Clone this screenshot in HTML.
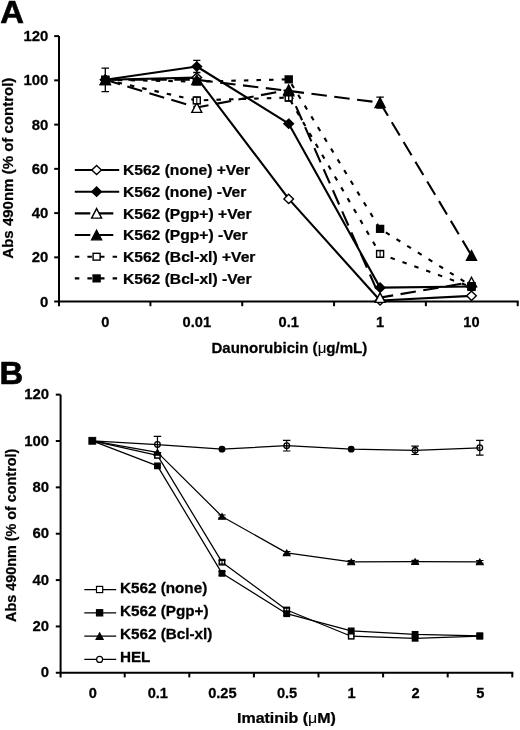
<!DOCTYPE html><html><head><meta charset="utf-8"><style>html,body{margin:0;padding:0;background:#fff;}svg{display:block;filter:grayscale(100%);}text{font-family:"Liberation Sans",sans-serif;font-weight:bold;fill:#000;stroke:#000;}</style></head><body>
<svg width="520" height="730" viewBox="0 0 520 730">
<rect width="520" height="730" fill="#fff"/>
<text transform="translate(0.30,22.80) scale(1.04,1)" font-size="31.6" text-anchor="start" stroke-width="0.6">A</text>
<text transform="translate(48.40,306.60) scale(1.08,1)" font-size="13.8" text-anchor="end" stroke-width="0.25">0</text>
<text transform="translate(48.40,262.35) scale(1.08,1)" font-size="13.8" text-anchor="end" stroke-width="0.25">20</text>
<text transform="translate(48.40,218.10) scale(1.08,1)" font-size="13.8" text-anchor="end" stroke-width="0.25">40</text>
<text transform="translate(48.40,173.85) scale(1.08,1)" font-size="13.8" text-anchor="end" stroke-width="0.25">60</text>
<text transform="translate(48.40,129.60) scale(1.08,1)" font-size="13.8" text-anchor="end" stroke-width="0.25">80</text>
<text transform="translate(48.40,85.35) scale(1.08,1)" font-size="13.8" text-anchor="end" stroke-width="0.25">100</text>
<text transform="translate(48.40,41.10) scale(1.08,1)" font-size="13.8" text-anchor="end" stroke-width="0.25">120</text>
<path d="M59.0,36.10V306.20000000000005M54.2,301.6H518.70" stroke="#000" stroke-width="2" fill="none"/>
<path d="M54.2,257.35H59.0" stroke="#000" stroke-width="2"/>
<path d="M54.2,213.10H59.0" stroke="#000" stroke-width="2"/>
<path d="M54.2,168.85H59.0" stroke="#000" stroke-width="2"/>
<path d="M54.2,124.60H59.0" stroke="#000" stroke-width="2"/>
<path d="M54.2,80.35H59.0" stroke="#000" stroke-width="2"/>
<path d="M54.2,36.10H59.0" stroke="#000" stroke-width="2"/>
<path d="M150.42,301.6V306.20000000000005" stroke="#000" stroke-width="2"/>
<path d="M242.24,301.6V306.20000000000005" stroke="#000" stroke-width="2"/>
<path d="M334.06,301.6V306.20000000000005" stroke="#000" stroke-width="2"/>
<path d="M425.88,301.6V306.20000000000005" stroke="#000" stroke-width="2"/>
<path d="M517.70,301.6V306.20000000000005" stroke="#000" stroke-width="2"/>
<text transform="translate(105.30,327.40) scale(1.06,1)" font-size="13.8" text-anchor="middle" stroke-width="0.25">0</text>
<text transform="translate(196.80,327.40) scale(1.06,1)" font-size="13.8" text-anchor="middle" stroke-width="0.25">0.01</text>
<text transform="translate(288.70,327.40) scale(1.06,1)" font-size="13.8" text-anchor="middle" stroke-width="0.25">0.1</text>
<text transform="translate(380.10,327.40) scale(1.06,1)" font-size="13.8" text-anchor="middle" stroke-width="0.25">1</text>
<text transform="translate(471.50,327.40) scale(1.06,1)" font-size="13.8" text-anchor="middle" stroke-width="0.25">10</text>
<text transform="translate(211.40,352.60) scale(1.062,1)" font-size="14.2" text-anchor="start" stroke-width="0.25">Daunorubicin (<tspan font-weight="normal" stroke-width="0.1">μ</tspan>g/mL)</text>
<text transform="translate(12.80,168.15) rotate(-90) scale(1.058,1)" font-size="14.2" text-anchor="middle" stroke-width="0.25">Abs 490nm (% of control)</text>
<polyline points="105.30,79.80 196.80,77.58 288.70,198.91 380.10,300.49 471.50,295.83" fill="none" stroke="#000" stroke-width="2.1" stroke-linejoin="round"/>
<polyline points="105.30,79.80 196.80,66.49 288.70,123.72 380.10,287.63 471.50,286.52" fill="none" stroke="#000" stroke-width="2.1" stroke-linejoin="round"/>
<polyline points="105.30,79.80 196.80,107.53 288.70,89.78 380.10,297.61 471.50,282.08" fill="none" stroke="#000" stroke-width="2.1" stroke-linejoin="round" stroke-dasharray="15.5 7.5" stroke-dashoffset="0"/>
<polyline points="105.30,79.80 196.80,79.80 288.70,90.89 380.10,102.65 471.50,255.47" fill="none" stroke="#000" stroke-width="2.1" stroke-linejoin="round" stroke-dasharray="15.5 7.5" stroke-dashoffset="0"/>
<polyline points="105.30,79.80 196.80,100.43 288.70,97.54 380.10,253.91 471.50,286.96" fill="none" stroke="#000" stroke-width="2.1" stroke-linejoin="round" stroke-dasharray="4.5 8.1" stroke-dashoffset="0"/>
<polyline points="105.30,79.80 196.80,81.57 288.70,79.36 380.10,228.85 471.50,286.07" fill="none" stroke="#000" stroke-width="2.1" stroke-linejoin="round" stroke-dasharray="4.5 8.1" stroke-dashoffset="0"/>
<path d="M105.30,68.04V91.56M101.55,68.04H109.05M101.55,91.56H109.05" stroke="#000" stroke-width="1.3" fill="none"/>
<path d="M196.80,60.28V72.48M193.20,60.28H200.40M193.20,72.48H200.40" stroke="#000" stroke-width="1.3" fill="none"/>
<path d="M380.10,97.10V108.19M376.35,97.10H383.85M376.35,108.19H383.85" stroke="#000" stroke-width="1.3" fill="none"/>
<polygon points="105.30,75.20 110.10,79.80 105.30,84.40 100.50,79.80" fill="#fff" stroke="#000" stroke-width="1.4"/>
<polygon points="105.30,75.20 110.10,79.80 105.30,84.40 100.50,79.80" fill="#000" stroke="#000" stroke-width="1.4"/>
<polygon points="105.30,75.00 110.30,84.60 100.30,84.60" fill="#fff" stroke="#000" stroke-width="1.4" stroke-linejoin="miter"/>
<polygon points="105.30,75.00 110.30,84.60 100.30,84.60" fill="#000" stroke="#000" stroke-width="1.4" stroke-linejoin="miter"/>
<rect x="101.80" y="76.40" width="7.0" height="6.8" fill="#fff" stroke="#000" stroke-width="1.4"/>
<rect x="101.80" y="76.40" width="7.0" height="6.8" fill="#000" stroke="#000" stroke-width="1.4"/>
<polygon points="196.80,72.98 201.60,77.58 196.80,82.18 192.00,77.58" fill="#fff" stroke="#000" stroke-width="1.4"/>
<polygon points="196.80,61.89 201.60,66.49 196.80,71.09 192.00,66.49" fill="#000" stroke="#000" stroke-width="1.4"/>
<polygon points="196.80,102.73 201.80,112.33 191.80,112.33" fill="#fff" stroke="#000" stroke-width="1.4" stroke-linejoin="miter"/>
<polygon points="196.80,75.00 201.80,84.60 191.80,84.60" fill="#000" stroke="#000" stroke-width="1.4" stroke-linejoin="miter"/>
<rect x="193.30" y="97.03" width="7.0" height="6.8" fill="#fff" stroke="#000" stroke-width="1.4"/>
<rect x="193.30" y="78.17" width="7.0" height="6.8" fill="#000" stroke="#000" stroke-width="1.4"/>
<polygon points="288.70,194.31 293.50,198.91 288.70,203.51 283.90,198.91" fill="#fff" stroke="#000" stroke-width="1.4"/>
<polygon points="288.70,119.12 293.50,123.72 288.70,128.32 283.90,123.72" fill="#000" stroke="#000" stroke-width="1.4"/>
<polygon points="288.70,84.98 293.70,94.58 283.70,94.58" fill="#fff" stroke="#000" stroke-width="1.4" stroke-linejoin="miter"/>
<rect x="285.20" y="94.14" width="7.0" height="6.8" fill="#fff" stroke="#000" stroke-width="1.4"/>
<polygon points="288.70,86.09 293.70,95.69 283.70,95.69" fill="#000" stroke="#000" stroke-width="1.4" stroke-linejoin="miter"/>
<rect x="285.20" y="75.96" width="7.0" height="6.8" fill="#000" stroke="#000" stroke-width="1.4"/>
<polygon points="380.10,295.89 384.90,300.49 380.10,305.09 375.30,300.49" fill="#fff" stroke="#000" stroke-width="1.4"/>
<polygon points="380.10,283.03 384.90,287.63 380.10,292.23 375.30,287.63" fill="#000" stroke="#000" stroke-width="1.4"/>
<polygon points="380.10,292.81 385.10,302.41 375.10,302.41" fill="#fff" stroke="#000" stroke-width="1.4" stroke-linejoin="miter"/>
<polygon points="380.10,97.85 385.10,107.45 375.10,107.45" fill="#000" stroke="#000" stroke-width="1.4" stroke-linejoin="miter"/>
<rect x="376.60" y="250.51" width="7.0" height="6.8" fill="#fff" stroke="#000" stroke-width="1.4"/>
<rect x="376.60" y="225.45" width="7.0" height="6.8" fill="#000" stroke="#000" stroke-width="1.4"/>
<polygon points="471.50,291.23 476.30,295.83 471.50,300.43 466.70,295.83" fill="#fff" stroke="#000" stroke-width="1.4"/>
<polygon points="471.50,281.92 476.30,286.52 471.50,291.12 466.70,286.52" fill="#000" stroke="#000" stroke-width="1.4"/>
<polygon points="471.50,277.28 476.50,286.88 466.50,286.88" fill="#fff" stroke="#000" stroke-width="1.4" stroke-linejoin="miter"/>
<polygon points="471.50,250.67 476.50,260.27 466.50,260.27" fill="#000" stroke="#000" stroke-width="1.4" stroke-linejoin="miter"/>
<rect x="468.00" y="283.56" width="7.0" height="6.8" fill="#fff" stroke="#000" stroke-width="1.4"/>
<rect x="468.00" y="282.67" width="7.0" height="6.8" fill="#000" stroke="#000" stroke-width="1.4"/>
<path d="M196.80,97.10V103.75M193.80,97.10H199.80M193.80,103.75H199.80" stroke="#000" stroke-width="1.1" fill="none"/>
<path d="M380.10,250.59V257.24M377.10,250.59H383.10M377.10,257.24H383.10" stroke="#000" stroke-width="1.1" fill="none"/>
<path d="M288.70,94.00V101.09M285.20,94.00H292.20M285.20,101.09H292.20" stroke="#000" stroke-width="1.4" fill="none"/>
<path d="M74.8,170.00H119.2" stroke="#000" stroke-width="2.1"/>
<polygon points="96.60,165.40 101.40,170.00 96.60,174.60 91.80,170.00" fill="#fff" stroke="#000" stroke-width="1.4"/>
<text transform="translate(122.95,175.35) scale(1.087,1)" font-size="14.4" text-anchor="start" stroke-width="0.25">K562 (none) +Ver</text>
<path d="M74.8,191.68H119.2" stroke="#000" stroke-width="2.1"/>
<polygon points="96.60,187.08 101.40,191.68 96.60,196.28 91.80,191.68" fill="#000" stroke="#000" stroke-width="1.4"/>
<text transform="translate(122.95,197.03) scale(1.087,1)" font-size="14.4" text-anchor="start" stroke-width="0.25">K562 (none) -Ver</text>
<path d="M74.8,213.36H119.2" stroke="#000" stroke-width="2.1" stroke-dasharray="15.5 7.5"/>
<polygon points="96.60,208.56 101.60,218.16 91.60,218.16" fill="#fff" stroke="#000" stroke-width="1.4" stroke-linejoin="miter"/>
<text transform="translate(122.95,218.71) scale(1.087,1)" font-size="14.4" text-anchor="start" stroke-width="0.25">K562 (Pgp+) +Ver</text>
<path d="M74.8,235.04H119.2" stroke="#000" stroke-width="2.1" stroke-dasharray="15.5 7.5"/>
<polygon points="96.60,230.24 101.60,239.84 91.60,239.84" fill="#000" stroke="#000" stroke-width="1.4" stroke-linejoin="miter"/>
<text transform="translate(122.95,240.39) scale(1.087,1)" font-size="14.4" text-anchor="start" stroke-width="0.25">K562 (Pgp+) -Ver</text>
<path d="M74.8,256.72H119.2" stroke="#000" stroke-width="2.1" stroke-dasharray="4.5 8.1"/>
<rect x="93.10" y="253.32" width="7.0" height="6.8" fill="#fff" stroke="#000" stroke-width="1.4"/>
<text transform="translate(122.95,262.07) scale(1.087,1)" font-size="14.4" text-anchor="start" stroke-width="0.25">K562 (Bcl-xl) +Ver</text>
<path d="M74.8,278.40H119.2" stroke="#000" stroke-width="2.1" stroke-dasharray="4.5 8.1"/>
<rect x="93.10" y="275.00" width="7.0" height="6.8" fill="#000" stroke="#000" stroke-width="1.4"/>
<text transform="translate(122.95,283.75) scale(1.087,1)" font-size="14.4" text-anchor="start" stroke-width="0.25">K562 (Bcl-xl) -Ver</text>
<text transform="translate(-0.60,383.60) scale(1.04,1)" font-size="31.6" text-anchor="start" stroke-width="0.6">B</text>
<text transform="translate(49.00,677.40) scale(1.08,1)" font-size="13.8" text-anchor="end" stroke-width="0.25">0</text>
<text transform="translate(49.00,631.04) scale(1.08,1)" font-size="13.8" text-anchor="end" stroke-width="0.25">20</text>
<text transform="translate(49.00,584.68) scale(1.08,1)" font-size="13.8" text-anchor="end" stroke-width="0.25">40</text>
<text transform="translate(49.00,538.32) scale(1.08,1)" font-size="13.8" text-anchor="end" stroke-width="0.25">60</text>
<text transform="translate(49.00,491.96) scale(1.08,1)" font-size="13.8" text-anchor="end" stroke-width="0.25">80</text>
<text transform="translate(49.00,445.60) scale(1.08,1)" font-size="13.8" text-anchor="end" stroke-width="0.25">100</text>
<text transform="translate(49.00,399.24) scale(1.08,1)" font-size="13.8" text-anchor="end" stroke-width="0.25">120</text>
<path d="M60.6,394.64V677.4M55.800000000000004,672.8H513.30" stroke="#000" stroke-width="2" fill="none"/>
<path d="M55.800000000000004,626.44H60.6" stroke="#000" stroke-width="2"/>
<path d="M55.800000000000004,580.08H60.6" stroke="#000" stroke-width="2"/>
<path d="M55.800000000000004,533.72H60.6" stroke="#000" stroke-width="2"/>
<path d="M55.800000000000004,487.36H60.6" stroke="#000" stroke-width="2"/>
<path d="M55.800000000000004,441.00H60.6" stroke="#000" stroke-width="2"/>
<path d="M55.800000000000004,394.64H60.6" stroke="#000" stroke-width="2"/>
<path d="M124.70,672.8V677.4" stroke="#000" stroke-width="2"/>
<path d="M189.30,672.8V677.4" stroke="#000" stroke-width="2"/>
<path d="M253.90,672.8V677.4" stroke="#000" stroke-width="2"/>
<path d="M318.50,672.8V677.4" stroke="#000" stroke-width="2"/>
<path d="M383.10,672.8V677.4" stroke="#000" stroke-width="2"/>
<path d="M447.70,672.8V677.4" stroke="#000" stroke-width="2"/>
<path d="M512.30,672.8V677.4" stroke="#000" stroke-width="2"/>
<text transform="translate(92.70,698.20) scale(1.06,1)" font-size="13.8" text-anchor="middle" stroke-width="0.25">0</text>
<text transform="translate(157.85,698.20) scale(1.06,1)" font-size="13.8" text-anchor="middle" stroke-width="0.25">0.1</text>
<text transform="translate(222.40,698.20) scale(1.06,1)" font-size="13.8" text-anchor="middle" stroke-width="0.25">0.25</text>
<text transform="translate(287.10,698.20) scale(1.06,1)" font-size="13.8" text-anchor="middle" stroke-width="0.25">0.5</text>
<text transform="translate(351.60,698.20) scale(1.06,1)" font-size="13.8" text-anchor="middle" stroke-width="0.25">1</text>
<text transform="translate(415.50,698.20) scale(1.06,1)" font-size="13.8" text-anchor="middle" stroke-width="0.25">2</text>
<text transform="translate(480.20,698.20) scale(1.06,1)" font-size="13.8" text-anchor="middle" stroke-width="0.25">5</text>
<text transform="translate(237.00,723.30) scale(1.127,1)" font-size="14.2" text-anchor="start" stroke-width="0.25">Imatinib (<tspan font-weight="normal" stroke-width="0.1">μ</tspan>M)</text>
<text transform="translate(15.90,535.35) rotate(-90) scale(1.013,1)" font-size="14.2" text-anchor="middle" stroke-width="0.25">Abs 490nm (% of control)</text>
<polyline points="92.30,440.80 157.45,455.42 222.00,562.19 286.70,610.00 351.20,636.23 415.10,638.32 479.80,636.23" fill="none" stroke="#000" stroke-width="1.25" stroke-linejoin="round"/>
<polyline points="92.30,440.80 157.45,465.87 222.00,573.33 286.70,613.71 351.20,630.89 415.10,634.37 479.80,635.76" fill="none" stroke="#000" stroke-width="1.25" stroke-linejoin="round"/>
<polyline points="92.30,440.80 157.45,452.40 222.00,516.46 286.70,552.90 351.20,561.96 415.10,561.72 479.80,561.96" fill="none" stroke="#000" stroke-width="1.25" stroke-linejoin="round"/>
<polyline points="92.30,440.80 157.45,444.51 222.00,449.16 286.70,445.67 351.20,449.16 415.10,450.32 479.80,447.76" fill="none" stroke="#000" stroke-width="1.25" stroke-linejoin="round"/>
<rect x="154.80" y="452.77" width="5.3" height="5.3" fill="#fff" stroke="#000" stroke-width="1.5"/>
<rect x="219.35" y="559.54" width="5.3" height="5.3" fill="#fff" stroke="#000" stroke-width="1.5"/>
<rect x="284.05" y="607.35" width="5.3" height="5.3" fill="#fff" stroke="#000" stroke-width="1.5"/>
<rect x="348.55" y="633.58" width="5.3" height="5.3" fill="#fff" stroke="#000" stroke-width="1.5"/>
<rect x="412.45" y="635.67" width="5.3" height="5.3" fill="#000" stroke="#000" stroke-width="1.5"/>
<rect x="477.15" y="633.58" width="5.3" height="5.3" fill="#000" stroke="#000" stroke-width="1.5"/>
<rect x="154.65" y="463.07" width="5.6" height="5.6" fill="#000" stroke="#000" stroke-width="1.2"/>
<rect x="219.20" y="570.53" width="5.6" height="5.6" fill="#000" stroke="#000" stroke-width="1.2"/>
<rect x="283.90" y="610.91" width="5.6" height="5.6" fill="#000" stroke="#000" stroke-width="1.2"/>
<rect x="348.40" y="628.09" width="5.6" height="5.6" fill="#000" stroke="#000" stroke-width="1.2"/>
<rect x="412.30" y="631.57" width="5.6" height="5.6" fill="#000" stroke="#000" stroke-width="1.2"/>
<rect x="477.00" y="632.96" width="5.6" height="5.6" fill="#000" stroke="#000" stroke-width="1.2"/>
<polygon points="157.45,449.60 160.75,455.20 154.15,455.20" fill="#000" stroke="#000" stroke-width="1.2" stroke-linejoin="miter"/>
<polygon points="222.00,513.66 225.30,519.26 218.70,519.26" fill="#000" stroke="#000" stroke-width="1.2" stroke-linejoin="miter"/>
<polygon points="286.70,550.10 290.00,555.70 283.40,555.70" fill="#000" stroke="#000" stroke-width="1.2" stroke-linejoin="miter"/>
<polygon points="351.20,559.16 354.50,564.76 347.90,564.76" fill="#000" stroke="#000" stroke-width="1.2" stroke-linejoin="miter"/>
<polygon points="415.10,558.92 418.40,564.52 411.80,564.52" fill="#000" stroke="#000" stroke-width="1.2" stroke-linejoin="miter"/>
<polygon points="479.80,559.16 483.10,564.76 476.50,564.76" fill="#000" stroke="#000" stroke-width="1.2" stroke-linejoin="miter"/>
<circle cx="157.45" cy="444.51" r="2.8" fill="none" stroke="#000" stroke-width="1.3"/>
<circle cx="222.00" cy="449.16" r="2.8" fill="#000" stroke="#000" stroke-width="1.3"/>
<circle cx="286.70" cy="445.67" r="2.8" fill="none" stroke="#000" stroke-width="1.3"/>
<circle cx="351.20" cy="449.16" r="2.8" fill="#000" stroke="#000" stroke-width="1.3"/>
<circle cx="415.10" cy="450.32" r="2.8" fill="none" stroke="#000" stroke-width="1.3"/>
<circle cx="479.80" cy="447.76" r="2.8" fill="none" stroke="#000" stroke-width="1.3"/>
<path d="M222.00,515.07V517.86M218.30,515.07H225.70M218.30,517.86H225.70" stroke="#000" stroke-width="1.1" fill="none"/>
<path d="M286.70,551.51V554.30M283.00,551.51H290.40M283.00,554.30H290.40" stroke="#000" stroke-width="1.1" fill="none"/>
<path d="M351.20,560.56V563.35M347.50,560.56H354.90M347.50,563.35H354.90" stroke="#000" stroke-width="1.1" fill="none"/>
<path d="M415.10,560.33V563.12M411.40,560.33H418.80M411.40,563.12H418.80" stroke="#000" stroke-width="1.1" fill="none"/>
<path d="M479.80,560.56V563.35M476.10,560.56H483.50M476.10,563.35H483.50" stroke="#000" stroke-width="1.1" fill="none"/>
<path d="M222.00,560.33V564.05M218.50,560.33H225.50M218.50,564.05H225.50" stroke="#000" stroke-width="1.1" fill="none"/>
<path d="M222.00,571.47V575.19M218.50,571.47H225.50M218.50,575.19H225.50" stroke="#000" stroke-width="1.1" fill="none"/>
<path d="M286.70,608.14V611.86M283.20,608.14H290.20M283.20,611.86H290.20" stroke="#000" stroke-width="1.1" fill="none"/>
<path d="M286.70,611.86V615.57M283.20,611.86H290.20M283.20,615.57H290.20" stroke="#000" stroke-width="1.1" fill="none"/>
<path d="M157.45,436.39V452.64M153.70,436.39H161.20M153.70,452.64H161.20" stroke="#000" stroke-width="1.2" fill="none"/>
<path d="M286.70,440.34V451.01M282.95,440.34H290.45M282.95,451.01H290.45" stroke="#000" stroke-width="1.2" fill="none"/>
<path d="M415.10,446.14V454.49M411.35,446.14H418.85M411.35,454.49H418.85" stroke="#000" stroke-width="1.2" fill="none"/>
<path d="M479.80,440.34V455.19M476.05,440.34H483.55M476.05,455.19H483.55" stroke="#000" stroke-width="1.2" fill="none"/>
<rect x="88.90" y="437.40" width="6.8" height="6.8" fill="#000" stroke="#000" stroke-width="1.0"/>
<path d="M84.3,589.50H116.2" stroke="#000" stroke-width="1.25"/>
<rect x="96.50" y="586.40" width="6.2" height="6.2" fill="#fff" stroke="#000" stroke-width="1.2"/>
<text transform="translate(119.90,593.30) scale(1.107,1)" font-size="13.8" text-anchor="start" stroke-width="0.25">K562 (none)</text>
<path d="M84.3,612.80H116.2" stroke="#000" stroke-width="1.25"/>
<rect x="96.50" y="609.70" width="6.2" height="6.2" fill="#000" stroke="#000" stroke-width="1.2"/>
<text transform="translate(119.90,616.30) scale(1.107,1)" font-size="13.8" text-anchor="start" stroke-width="0.25">K562 (Pgp+)</text>
<path d="M84.3,636.10H116.2" stroke="#000" stroke-width="1.25"/>
<polygon points="99.60,632.90 103.10,639.30 96.10,639.30" fill="#000" stroke="#000" stroke-width="1.2" stroke-linejoin="miter"/>
<text transform="translate(119.90,639.30) scale(1.107,1)" font-size="13.8" text-anchor="start" stroke-width="0.25">K562 (Bcl-xl)</text>
<path d="M84.3,659.40H116.2" stroke="#000" stroke-width="1.25"/>
<circle cx="99.60" cy="659.40" r="3.0" fill="#fff" stroke="#000" stroke-width="1.2"/>
<text transform="translate(119.90,662.30) scale(1.107,1)" font-size="13.8" text-anchor="start" stroke-width="0.25">HEL</text>
</svg></body></html>
